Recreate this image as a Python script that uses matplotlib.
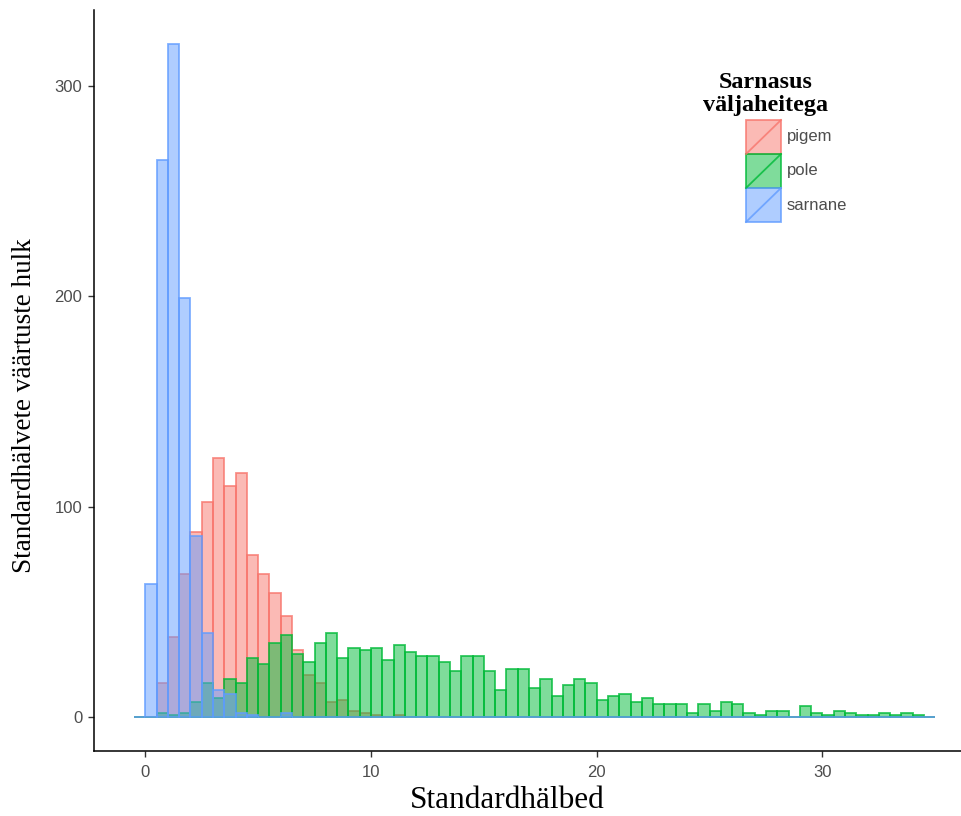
import numpy as np
import matplotlib.pyplot as plt
from matplotlib.patches import Rectangle
from matplotlib.lines import Line2D
from matplotlib.colors import to_rgba

plt.rcParams["font.family"] = ["Liberation Sans", "DejaVu Sans"]

# histogram bins: width 0.5, first bin starts at -0.5 (71 bins up to 35)
bin_start = -0.5
bin_width = 0.5

groups = ["pigem", "pole", "sarnane"]
colors = ["#F8766D", "#00BA38", "#619CFF"]

# counts per bin
pigem = [0, 0, 16, 38, 68, 88, 102, 123, 110, 116, 77, 68, 59, 48, 32, 20,
         16, 7, 8, 3, 2, 1, 0, 1, 0, 0, 0, 0, 0, 0, 0, 0, 0, 0, 0, 0,
         0, 0, 0, 0, 0, 0, 0, 0, 0, 0, 0, 0, 0, 0, 0, 0, 0, 0, 0, 0,
         0, 0, 0, 0, 0, 0, 0, 0, 0, 0, 0, 0, 0, 0, 0]
pole = [0, 0, 2, 1, 2, 7, 16, 9, 18, 16, 28, 25, 35, 39, 30, 26,
        35, 40, 28, 33, 32, 33, 27, 34, 31, 29, 29, 26, 22, 29, 29, 22,
        13, 23, 23, 14, 18, 10, 15, 18, 16, 8, 10, 11, 7, 9, 6, 6,
        6, 2, 6, 3, 7, 6, 2, 1, 3, 3, 0, 5, 2, 1, 3, 2, 1, 1,
        2, 1, 2, 1, 0]
sarnane = [0, 63, 265, 320, 199, 86, 40, 13, 11, 2, 1, 0, 0, 2, 0, 0,
           0, 0, 0, 0, 0, 0, 0, 0, 0, 0, 0, 0, 0, 0, 0, 0, 0, 0, 0, 0,
           0, 0, 0, 0, 0, 0, 0, 0, 0, 0, 0, 0, 0, 0, 0, 0, 0, 0, 0, 0,
           0, 0, 0, 0, 0, 0, 0, 0, 0, 0, 0, 0, 0, 0, 0]
series = [pigem, pole, sarnane]

W, H = 962, 816
fig = plt.figure(figsize=(W / 100, H / 100), dpi=100)
ax = fig.add_axes([94 / W, (H - 750.6) / H, (W - 94) / W, (750.6 - 10.4) / H])

lefts = bin_start + bin_width * np.arange(len(pigem))
for counts, c in zip(series, colors):
    ax.bar(lefts, counts, width=bin_width, align="edge",
           facecolor=to_rgba(c, 0.5), edgecolor=to_rgba(c, 0.8), linewidth=1.3)

ax.set_xlim(-2.275, -2.275 + 868 / 22.57)
ax.set_ylim(-16, 336)
ax.set_xticks([0, 10, 20, 30])
ax.set_yticks([0, 100, 200, 300])
for s in ["top", "right"]:
    ax.spines[s].set_visible(False)
for s in ["left", "bottom"]:
    ax.spines[s].set_linewidth(1.1)
    ax.spines[s].set_color("black")
ax.tick_params(length=4.5, width=1, color="#333333", labelcolor="#4D4D4D",
               labelsize=12)
ax.tick_params(axis="x", pad=6)
ax.tick_params(axis="y", pad=4)

ax.set_xlabel("Standardhälbed", family="Liberation Serif", fontsize=22.5)
ax.xaxis.set_label_coords(0.476, -0.048)
ax.set_ylabel("Standardhälvete väärtuste hulk", family="Liberation Serif",
              fontsize=19.5)
ax.yaxis.set_label_coords(-0.066, 0.466)


# legend drawn by hand (ggplot-style keys with a diagonal slash)
def fx(x):
    return x / W


def fy(y):
    return 1 - y / H


fig.text(fx(766), fy(88.3), "Sarnasus", ha="center", va="baseline",
         family="Liberation Serif", weight="bold", fontsize=17.4)
fig.text(fx(766), fy(111.5), "väljaheitega", ha="center", va="baseline",
         family="Liberation Serif", weight="bold", fontsize=17.4)

key_w, key_h = 35, 34
for i, (g, c) in enumerate(zip(groups, colors)):
    top = 120 + i * key_h
    fig.add_artist(Rectangle((fx(746), fy(top + key_h)), key_w / W, key_h / H,
                             transform=fig.transFigure,
                             facecolor=to_rgba(c, 0.5),
                             edgecolor=to_rgba(c, 0.8), linewidth=1.3))
    fig.add_artist(Line2D([fx(746), fx(746 + key_w)], [fy(top + key_h), fy(top)],
                          transform=fig.transFigure, color=to_rgba(c, 0.8),
                          linewidth=1.3))
    fig.text(fx(787), fy(top + key_h / 2), g, ha="left", va="center",
             color="#4D4D4D", fontsize=12)

fig.savefig("out.png", dpi=100)
